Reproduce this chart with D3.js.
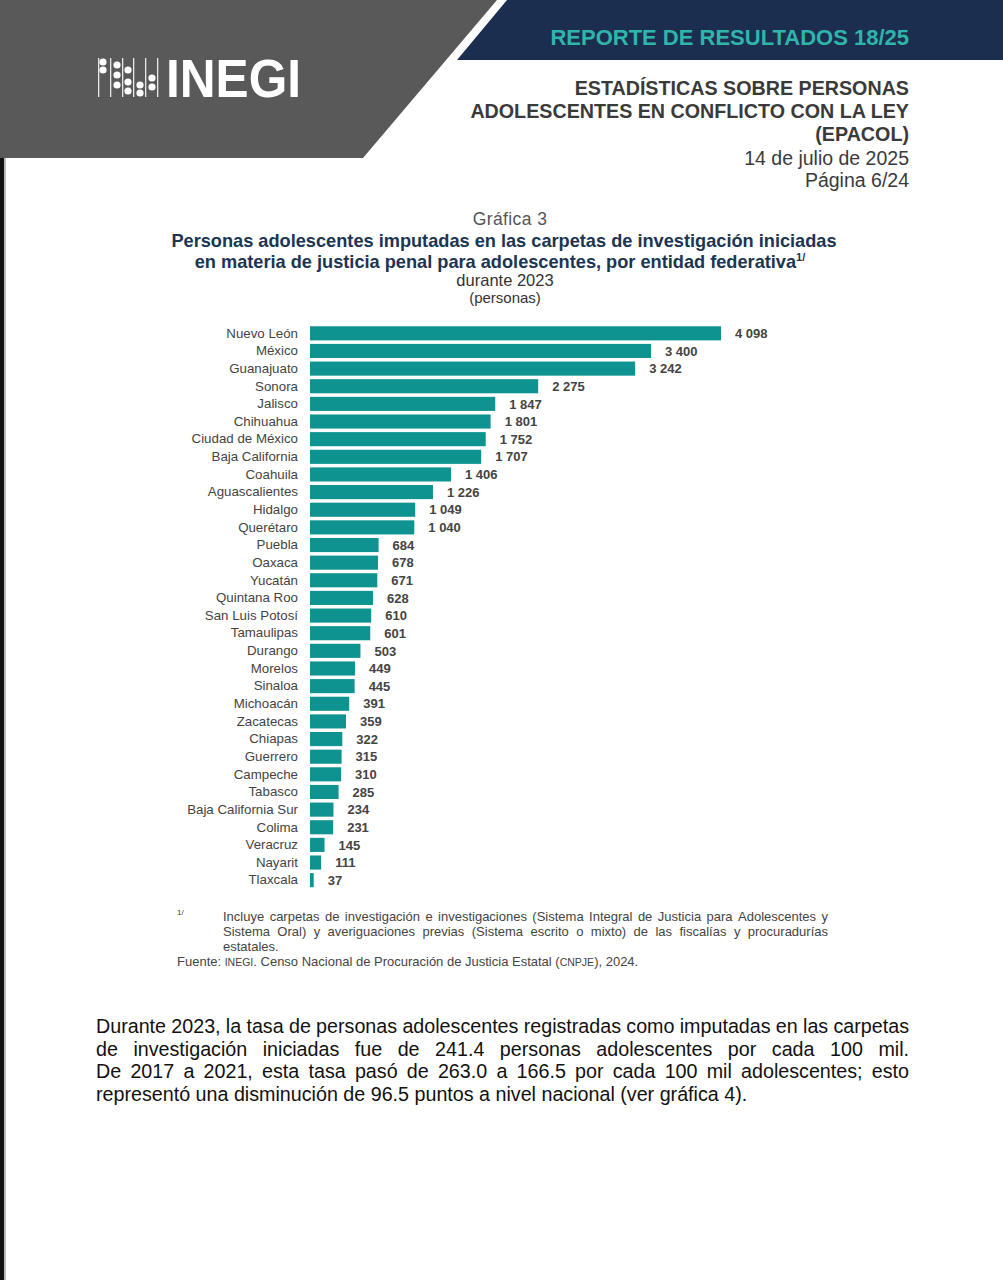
<!DOCTYPE html>
<html><head><meta charset="utf-8">
<script src="https://cdn.jsdelivr.net/npm/d3@7"></script>
<style>
body{margin:0;background:#fff;}
svg{display:block;}
</style></head>
<body>
<svg id="c" width="1003" height="1280"></svg>
<script>
const states = ["Nuevo León","México","Guanajuato","Sonora","Jalisco","Chihuahua","Ciudad de México","Baja California","Coahuila","Aguascalientes","Hidalgo","Querétaro","Puebla","Oaxaca","Yucatán","Quintana Roo","San Luis Potosí","Tamaulipas","Durango","Morelos","Sinaloa","Michoacán","Zacatecas","Chiapas","Guerrero","Campeche","Tabasco","Baja California Sur","Colima","Veracruz","Nayarit","Tlaxcala"];
const values = [4098,3400,3242,2275,1847,1801,1752,1707,1406,1226,1049,1040,684,678,671,628,610,601,503,449,445,391,359,322,315,310,285,234,231,145,111,37];

const headerLines = ["ESTADÍSTICAS SOBRE PERSONAS","ADOLESCENTES EN CONFLICTO CON LA LEY","(EPACOL)"];
const dateLines = ["14 de julio de 2025","Página 6/24"];
const titleLines = ["Personas adolescentes imputadas en las carpetas de investigación iniciadas","en materia de justicia penal para adolescentes, por entidad federativa"];
const footLines = ["Incluye carpetas de investigación e investigaciones (Sistema Integral de Justicia para Adolescentes y","Sistema Oral) y averiguaciones previas (Sistema escrito o mixto) de las fiscalías y procuradurías","estatales."];
const paraLines = ["Durante 2023, la tasa de personas adolescentes registradas como imputadas en las carpetas","de investigación iniciadas fue de 241.4 personas adolescentes por cada 100 mil.","De 2017 a 2021, esta tasa pasó de 263.0 a 166.5 por cada 100 mil adolescentes; esto","representó una disminución de 96.5 puntos a nivel nacional (ver gráfica 4)."];

const NARROW = "'Liberation Sans Narrow','Arial Narrow','Liberation Sans',Arial,sans-serif";
const SANS = "'Liberation Sans',Arial,sans-serif";
const svg = d3.select("#c");

// header shapes
svg.append("polygon").attr("points","0,0 497,0 363,158 0,158").attr("fill","#595959");
svg.append("polygon").attr("points","507,0 1003,0 1003,60 457,60").attr("fill","#1c2e4f");
// page edge
svg.append("rect").attr("x",0).attr("y",158).attr("width",4).attr("height",1122).attr("fill","#111");
svg.append("rect").attr("x",4).attr("y",158).attr("width",2).attr("height",1122).attr("fill","#bbb");

svg.append("text").attr("x",909).attr("y",45).attr("text-anchor","end")
  .style("font-family",NARROW).style("font-weight","bold").style("font-size","22px").attr("fill","#2fb5aa")
  .text("REPORTE DE RESULTADOS 18/25");

// logo
const logo = svg.append("g");
[98,110,122,133,145,157].forEach(x=>logo.append("rect").attr("x",x).attr("y",58).attr("width",1.3).attr("height",39).attr("fill","#e8e8e8"));
[[103,62],[103,70],[117,65],[117,75],[117,85],[128,70],[128,82],[128,91],[140,85],[140,93],[152,78],[152,87]]
  .forEach(([x,y])=>logo.append("circle").attr("cx",x).attr("cy",y).attr("r",3.6).attr("fill","#fff"));
logo.append("text").attr("x",166).attr("y",97).attr("textLength",135).attr("lengthAdjust","spacingAndGlyphs")
  .style("font-family",SANS).style("font-weight","900").style("font-size","53px").attr("fill","#fff").text("INEGI");

// header texts
const ht = svg.append("g").style("font-family",NARROW).attr("fill","#3a3a3a").attr("text-anchor","end");
headerLines.forEach((t,i)=>ht.append("text").attr("x",909).attr("y",95+i*23).style("font-weight","bold").style("font-size","19.7px").text(t));
dateLines.forEach((t,i)=>ht.append("text").attr("x",909).attr("y",165+i*22).style("font-size","19.5px").text(t));

// chart titles
const tt = svg.append("g").style("font-family",NARROW).attr("text-anchor","middle");
tt.append("text").attr("x",510).attr("y",225).style("font-size","17.5px").style("letter-spacing","0.4px").attr("fill","#555").text("Gráfica 3");
titleLines.forEach((t,i)=>{
  const el = tt.append("text").attr("x",i===0?504:500).attr("y",247+i*21).style("font-size","18.2px").style("font-weight","bold").attr("fill","#1c3552").text(t);
  if(i===1) el.append("tspan").attr("dy",-7).style("font-size","11px").text("1/");
});
tt.append("text").attr("x",505).attr("y",286).style("font-size","16.5px").attr("fill","#333").text("durante 2023");
tt.append("text").attr("x",505).attr("y",303).style("font-size","15px").attr("fill","#333").text("(personas)");

// bars
const x = d3.scaleLinear().domain([0,4098]).range([310,721]);
const y = d3.scaleBand().domain(states).range([324.5,889]).paddingInner(0.2).paddingOuter(0.1);
const fmt = d3.formatLocale({decimal:".",thousands:" ",grouping:[3],currency:["",""]}).format(",d");
const chart = svg.append("g");
chart.selectAll("rect.bar").data(values).join("rect").attr("class","bar")
  .attr("x",x(0)).attr("y",(d,i)=>y(states[i])).attr("width",d=>x(d)-x(0)).attr("height",y.bandwidth()).attr("fill","#0f9390");
const yAxis = chart.append("g").attr("transform",`translate(${x(0)-4},0)`).call(d3.axisLeft(y).tickSize(0).tickPadding(8));
yAxis.select(".domain").remove();
yAxis.selectAll("text").style("font-family",NARROW).style("font-size","13.3px").attr("fill","#444");
chart.selectAll("text.val").data(values).join("text").attr("class","val")
  .attr("x",d=>x(d)+14).attr("y",(d,i)=>y(states[i])+y.bandwidth()/2).attr("dy","0.36em")
  .style("font-family",NARROW).style("font-weight","bold").style("font-size","13px").attr("fill","#444").text(d=>fmt(d));

// justification helper
function line(g, txt, x0, x1, yy, justify){
  const words = txt.split(" ");
  if(!justify){ g.append("text").attr("x",x0).attr("y",yy).text(txt); return; }
  const els = words.map(w=>g.append("text").attr("y",yy).text(w));
  const widths = els.map(e=>e.node().getComputedTextLength());
  const total = d3.sum(widths);
  const gap = (x1-x0-total)/(words.length-1);
  let cx = x0;
  els.forEach((e,i)=>{ e.attr("x",cx); cx += widths[i]+gap; });
}

// footnote
const fg = svg.append("g").style("font-family",NARROW).style("font-size","13px").attr("fill","#444");
fg.append("text").attr("x",177).attr("y",915).style("font-size","8px").text("1/");
footLines.forEach((t,i)=>line(fg,t,223,828,921+i*15,i<2));
const src = fg.append("text").attr("x",177).attr("y",966);
src.append("tspan").text("Fuente: ");
src.append("tspan").style("font-size","10.5px").text("INEGI");
src.append("tspan").text(". Censo Nacional de Procuración de Justicia Estatal (");
src.append("tspan").style("font-size","10.5px").text("CNPJE");
src.append("tspan").text("), 2024.");

// paragraph
const pg = svg.append("g").style("font-family",NARROW).style("font-size","19.7px").attr("fill","#111");
paraLines.forEach((t,i)=>line(pg,t,96,909,1033+i*22.6,i<3));
</script>
</body></html>
